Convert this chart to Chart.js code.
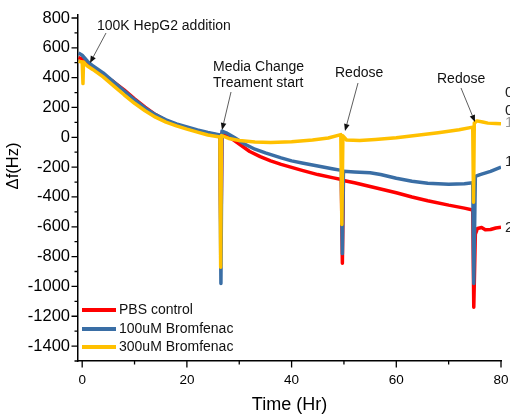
<!DOCTYPE html>
<html>
<head>
<meta charset="utf-8">
<script src="https://cdn.jsdelivr.net/npm/chart.js@4/dist/chart.umd.min.js"></script>
<style>
  body { margin: 0; background: #fff; }
  canvas { display: block; }
</style>
</head>
<body>
<canvas id="qcmChart" width="510" height="416"></canvas>
<script>
// values (time in hours, frequency shift in Hz)
const pbsTime = [-0.7, 0, 1, 2, 4, 6, 8, 10, 12, 14, 16, 18, 20, 22, 24, 26.3, 26.5, 26.7, 28, 30, 32, 34, 36, 38, 40, 42, 45, 48, 49.5, 49.7, 49.9, 52, 55, 58, 60, 63, 66, 70, 73, 74.6, 74.8, 75.1, 75.5, 76.3, 77, 78, 79, 80];
const pbsValues = [535, 525, 490, 465, 420, 372, 318, 258, 202, 152, 112, 85, 63, 45, 27, 12, -700, 28, 5, -45, -95, -130, -158, -182, -202, -222, -250, -272, -283, -845, -290, -305, -330, -355, -372, -400, -425, -455, -475, -487, -1140, -650, -612, -605, -620, -618, -608, -603];

const brom100Time = [-0.7, 0, 1, 2, 4, 6, 8, 10, 12, 14, 16, 18, 20, 22, 24, 26.3, 26.5, 26.7, 27.5, 29, 31, 33, 35, 38, 40, 42, 45, 48, 49.5, 49.7, 49.9, 52, 55, 57, 60, 63, 66, 70, 73, 74.6, 74.8, 75.1, 76, 78, 80];
const brom100Values = [565, 550, 510, 480, 432, 372, 312, 252, 197, 152, 117, 90, 70, 50, 32, 15, -980, 42, 30, 0, -45, -80, -105, -138, -158, -172, -192, -212, -222, -780, -228, -232, -238, -250, -275, -295, -308, -315, -312, -305, -980, -262, -250, -228, -200];

const brom300Time = [-0.7, 0, 0.15, 0.25, 0.5, 1, 2, 4, 6, 8, 10, 12, 14, 16, 18, 20, 22, 24, 26.3, 26.45, 26.6, 28, 30, 33, 36, 40, 44, 47, 49.4, 49.6, 49.8, 50.5, 53, 56, 60, 64, 68, 72, 74.6, 74.75, 74.9, 75.4, 76.5, 77.5, 79, 80];
const brom300Values = [510, 505, 360, 505, 495, 478, 455, 405, 345, 285, 228, 178, 135, 102, 77, 55, 35, 15, 2, -872, 12, -8, -22, -32, -35, -30, -18, -5, 18, -584, 10, -18, -22, -15, -3, 13, 30, 50, 68, -436, 95, 110, 102, 95, 92, 90];

const seriesLabels = ['PBS control', '100uM Bromfenac', '300uM Bromfenac'];
const xTicks = [0, 20, 40, 60, 80];
const xMinorTicks = [10, 30, 50, 70];
const yTicks = [-1400, -1200, -1000, -800, -600, -400, -200, 0, 200, 400, 600, 800];
const yMinorTicks = [-1500, -1300, -1100, -900, -700, -500, -300, -100, 100, 300, 500, 700];

const notes = [
  { lines: ['100K HepG2 addition'], x: 97, y: 26, from: [106, 33], to: [90, 63] },
  { lines: ['Media Change', 'Treament start'], x: 213, y: 67, from: [231, 92], to: [222, 130] },
  { lines: ['Redose'], x: 335, y: 73, from: [358, 83], to: [345, 131] },
  { lines: ['Redose'], x: 437, y: 79, from: [461, 88], to: [475, 122] }
];
// cut-off labels at the right edge of the picture
const edgeLabels = [
  { text: '0', y: 93, color: '#222' },
  { text: '0', y: 111, color: '#222' },
  { text: '1', y: 123, color: '#999' },
  { text: '1', y: 162, color: '#222' },
  { text: '2', y: 228, color: '#222' }
];

const colors = ['#ff0000', '#3a6ea5', '#ffc000'];

function toPoints(t, v) {
  return t.map((x, i) => ({ x: x, y: v[i] }));
}

function arrow(ctx, from, to) {
  const ang = Math.atan2(to[1] - from[1], to[0] - from[0]);
  const len = 7, half = 2.8;
  const bx = to[0] - len * Math.cos(ang), by = to[1] - len * Math.sin(ang);
  ctx.strokeStyle = '#333';
  ctx.fillStyle = '#111';
  ctx.lineWidth = 0.8;
  ctx.beginPath();
  ctx.moveTo(from[0], from[1]);
  ctx.lineTo(bx, by);
  ctx.stroke();
  ctx.beginPath();
  ctx.moveTo(to[0], to[1]);
  ctx.lineTo(bx + half * Math.sin(ang), by - half * Math.cos(ang));
  ctx.lineTo(bx - half * Math.sin(ang), by + half * Math.cos(ang));
  ctx.closePath();
  ctx.fill();
}

const extras = {
  id: 'extras',
  afterDraw(chart) {
    const ctx = chart.ctx;
    const xs = chart.scales.x, ys = chart.scales.y;
    const area = chart.chartArea;
    ctx.save();

    // tick marks, major and minor, outward
    ctx.strokeStyle = '#000';
    ctx.lineWidth = 1.3;
    ctx.beginPath();
    yTicks.forEach(v => { const p = ys.getPixelForValue(v); ctx.moveTo(area.left - 6.5, p); ctx.lineTo(area.left, p); });
    yMinorTicks.forEach(v => { const p = ys.getPixelForValue(v); ctx.moveTo(area.left - 3.5, p); ctx.lineTo(area.left, p); });
    xTicks.forEach(v => { const p = xs.getPixelForValue(v); ctx.moveTo(p, area.bottom); ctx.lineTo(p, area.bottom + 6.5); });
    xMinorTicks.forEach(v => { const p = xs.getPixelForValue(v); ctx.moveTo(p, area.bottom); ctx.lineTo(p, area.bottom + 3.5); });
    ctx.stroke();

    // axis titles
    ctx.fillStyle = '#000';
    ctx.font = '18px "Liberation Sans", Arial, sans-serif';
    ctx.textAlign = 'center';
    ctx.textBaseline = 'middle';
    ctx.fillText('Time (Hr)', (area.left + area.right) / 2, 405);
    ctx.save();
    ctx.translate(13, 166);
    ctx.rotate(-Math.PI / 2);
    ctx.font = '16.5px "Liberation Sans", Arial, sans-serif';
    ctx.fillText('\u0394f(Hz)', 0, 0);
    ctx.restore();

    // annotations
    ctx.font = '14px "Liberation Sans", Arial, sans-serif';
    ctx.textAlign = 'left';
    notes.forEach(n => {
      ctx.fillStyle = '#111';
      n.lines.forEach((s, i) => ctx.fillText(s, n.x, n.y + i * 16.5));
      arrow(ctx, n.from, n.to);
    });

    ctx.font = '15px "Liberation Sans", Arial, sans-serif';
    edgeLabels.forEach(l => { ctx.fillStyle = l.color; ctx.fillText(l.text, 505, l.y); });

    // legend
    ctx.font = '14px "Liberation Sans", Arial, sans-serif';
    const rows = [310, 329, 347];
    chart.data.datasets.forEach((ds, i) => {
      ctx.strokeStyle = ds.borderColor;
      ctx.lineWidth = 4;
      ctx.beginPath();
      ctx.moveTo(82, rows[i]);
      ctx.lineTo(116, rows[i]);
      ctx.stroke();
      ctx.fillStyle = '#111';
      ctx.fillText(ds.label, 119, rows[i] + 0.5);
    });
    ctx.restore();
  }
};

Chart.defaults.font.family = '"Liberation Sans", Arial, sans-serif';
Chart.defaults.color = '#000';

new Chart(document.getElementById('qcmChart'), {
  type: 'line',
  data: {
    datasets: [
      { label: seriesLabels[0], data: toPoints(pbsTime, pbsValues), borderColor: colors[0], order: 2 },
      { label: seriesLabels[1], data: toPoints(brom100Time, brom100Values), borderColor: colors[1], order: 1 },
      { label: seriesLabels[2], data: toPoints(brom300Time, brom300Values), borderColor: colors[2], order: 0 }
    ]
  },
  options: {
    responsive: false,
    animation: false,
    events: [],
    layout: { padding: { left: 0, right: 9, top: 15, bottom: 0 } },
    elements: {
      point: { radius: 0 },
      line: { borderWidth: 3.5, tension: 0, borderCapStyle: 'butt', borderJoinStyle: 'round' }
    },
    plugins: { legend: { display: false }, tooltip: { enabled: false } },
    scales: {
      x: {
        type: 'linear',
        min: -0.8,
        max: 80,
        grid: { display: false, drawTicks: false },
        border: { display: true, color: '#000', width: 1.5 },
        ticks: { font: { size: 13.5 }, padding: 11, maxRotation: 0 },
        afterBuildTicks: s => { s.ticks = xTicks.map(v => ({ value: v })); },
        afterFit: s => { s.height = 55; s.paddingLeft = 0; s.paddingRight = 0; }
      },
      y: {
        type: 'linear',
        min: -1500,
        max: 820,
        grid: { display: false, drawTicks: false },
        border: { display: true, color: '#000', width: 1.5 },
        ticks: { font: { size: 16.5 }, padding: 8, callback: v => String(v) },
        afterBuildTicks: s => { s.ticks = yTicks.map(v => ({ value: v })); },
        afterFit: s => { s.width = 78; s.paddingTop = 0; s.paddingBottom = 0; }
      }
    }
  },
  plugins: [extras]
});
</script>
</body>
</html>
